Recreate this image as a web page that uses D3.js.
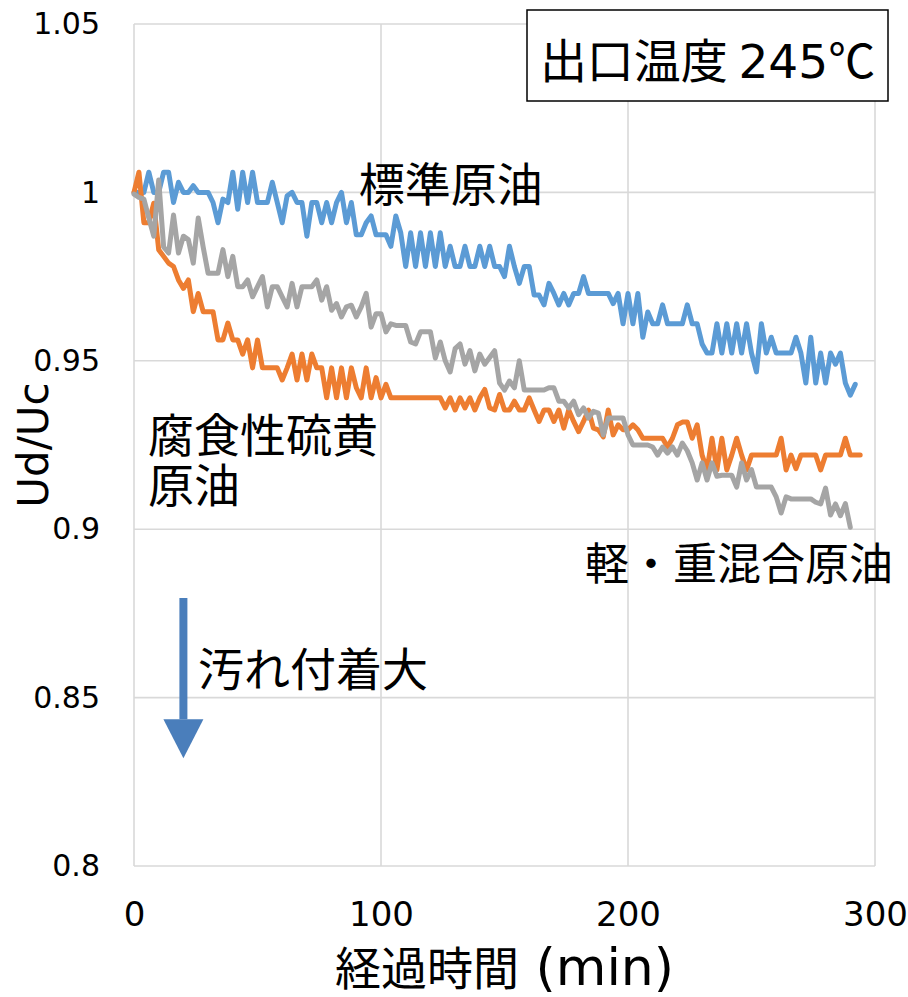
<!DOCTYPE html>
<html>
<head>
<meta charset="utf-8">
<script src="https://cdn.jsdelivr.net/npm/d3@7"></script>
<style>
  body { margin: 0; background: #fff; }
  text { fill: #000; }
</style>
</head>
<body>
<svg id="chart"></svg>
<script>
// samples logged every 2 min
const sampleMinutes = d3.range(0, 296, 2);

// 標準原油
const standardCrude = [
  1.0, 1.0, 1.0, 1.006, 1.0, 1.0, 1.006, 1.006, 0.997, 1.003,
  1.0, 1.0, 1.002, 1.0, 1.0, 1.0, 0.997, 0.991, 0.998, 0.997,
  1.006, 0.995, 1.006, 0.997, 1.006, 0.997, 0.997, 0.997, 1.003, 0.997,
  0.991, 0.999, 1.0, 0.997, 0.997, 0.987, 0.997, 0.997, 0.991, 0.997,
  0.991, 0.997, 1.0, 0.991, 0.997, 0.9874, 0.9874, 0.991, 0.993, 0.9874,
  0.9874, 0.9874, 0.984, 0.993, 0.988, 0.978, 0.988, 0.978, 0.988, 0.978,
  0.988, 0.978, 0.988, 0.978, 0.984, 0.978, 0.978, 0.984, 0.978, 0.978,
  0.984, 0.978, 0.984, 0.978, 0.978, 0.975, 0.984, 0.978, 0.973, 0.978,
  0.978, 0.9695, 0.9695, 0.9666, 0.973, 0.970, 0.9666, 0.970, 0.9666, 0.970,
  0.970, 0.975, 0.970, 0.970, 0.970, 0.970, 0.970, 0.967, 0.970, 0.961,
  0.970, 0.961, 0.970, 0.957, 0.9645, 0.961, 0.961, 0.9666, 0.961, 0.961,
  0.961, 0.961, 0.9666, 0.961, 0.961, 0.955, 0.9523, 0.9523, 0.961, 0.9523,
  0.961, 0.9523, 0.961, 0.9523, 0.961, 0.9523, 0.9467, 0.961, 0.9523, 0.957,
  0.9523, 0.9523, 0.9523, 0.9523, 0.957, 0.9523, 0.9434, 0.957, 0.9434, 0.9523,
  0.9434, 0.9523, 0.949, 0.9523, 0.9434, 0.9398, 0.943
];

// 腐食性硫黄原油
const sulfurCrude = [
  1.0, 1.006, 0.991, 0.991, 0.9968, 0.983, 0.981, 0.979, 0.978, 0.974,
  0.9715, 0.974, 0.9646, 0.970, 0.9646, 0.9646, 0.9646, 0.9562, 0.9562, 0.9612,
  0.9562, 0.9562, 0.952, 0.9562, 0.9479, 0.9562, 0.9479, 0.9479, 0.9479, 0.9479,
  0.9443, 0.9479, 0.952, 0.9443, 0.952, 0.9443, 0.952, 0.9479, 0.9479, 0.939,
  0.9479, 0.939, 0.9479, 0.939, 0.9479, 0.942, 0.939, 0.9479, 0.939, 0.945,
  0.939, 0.943, 0.939, 0.939, 0.939, 0.939, 0.939, 0.939, 0.939, 0.939,
  0.939, 0.939, 0.939, 0.936, 0.939, 0.9354, 0.939, 0.936, 0.939, 0.9354,
  0.939, 0.9415, 0.936, 0.9354, 0.940, 0.9354, 0.9354, 0.938, 0.9354, 0.9354,
  0.939, 0.9354, 0.932, 0.9354, 0.9354, 0.932, 0.9354, 0.930, 0.9354, 0.932,
  0.929, 0.932, 0.9354, 0.930, 0.9295, 0.9274, 0.9354, 0.928, 0.931, 0.9295,
  0.9295, 0.931, 0.9295, 0.927, 0.927, 0.927, 0.927, 0.927, 0.9244, 0.927,
  0.931, 0.9318, 0.9318, 0.927, 0.931, 0.922, 0.9176, 0.927, 0.9176, 0.927,
  0.9176, 0.922, 0.927, 0.922, 0.9176, 0.922, 0.922, 0.922, 0.922, 0.922,
  0.922, 0.927, 0.9176, 0.922, 0.918, 0.922, 0.922, 0.922, 0.922, 0.9176,
  0.922, 0.922, 0.922, 0.922, 0.927, 0.922, 0.922, 0.922
];

// 軽・重混合原油
const mixedCrude = [
  0.9995, 0.9985, 0.998, 0.9924, 0.987, 1.0037, 0.9838, 0.982, 0.9933, 0.982,
  0.987, 0.986, 0.979, 0.9924, 0.9838, 0.976, 0.976, 0.976, 0.983, 0.975,
  0.981, 0.972, 0.972, 0.974, 0.969, 0.972, 0.975, 0.966, 0.972, 0.972,
  0.969, 0.966, 0.973, 0.966, 0.972, 0.972, 0.972, 0.974, 0.968, 0.972,
  0.965, 0.967, 0.963, 0.966, 0.9665, 0.963, 0.966, 0.970, 0.960, 0.964,
  0.964, 0.9586, 0.961, 0.9605, 0.9605, 0.9605, 0.9556, 0.955, 0.9586, 0.9586,
  0.9586, 0.9508, 0.9556, 0.950, 0.9467, 0.9536, 0.955, 0.949, 0.953, 0.947,
  0.952, 0.949, 0.951, 0.953, 0.9434, 0.9413, 0.944, 0.942, 0.950, 0.9413,
  0.9413, 0.9413, 0.9413, 0.9413, 0.942, 0.942, 0.938, 0.938, 0.936, 0.938,
  0.934, 0.936, 0.933, 0.935, 0.9345, 0.928, 0.933, 0.933, 0.933, 0.933,
  0.928, 0.925, 0.925, 0.925, 0.925, 0.9244, 0.922, 0.9244, 0.9226, 0.9244,
  0.922, 0.9256, 0.9233, 0.9197, 0.9146, 0.9197, 0.9146, 0.9197, 0.9157, 0.916,
  0.916, 0.916, 0.9125, 0.9197, 0.9146, 0.9177, 0.9125, 0.9125, 0.9125, 0.9125,
  0.9096, 0.9048, 0.9096, 0.909, 0.909, 0.909, 0.909, 0.909, 0.908, 0.9075,
  0.9122, 0.9042, 0.9075, 0.904, 0.9076, 0.9006
];

const xTicks = [0, 100, 200, 300];
const yTicks = [0.8, 0.85, 0.9, 0.95, 1.0, 1.05];
const yTickLabels = ["0.8", "0.85", "0.9", "0.95", "1", "1.05"];

const series = [
  { name: "標準原油", color: "#5b9bd5", values: standardCrude },
  { name: "腐食性硫黄原油", color: "#ed7d31", values: sulfurCrude },
  { name: "軽・重混合原油", color: "#a5a5a5", values: mixedCrude }
];

const W = 908, H = 997;
const margin = { top: 24, right: 33, bottom: 131, left: 134 };

const svg = d3.select("#chart")
    .attr("width", W)
    .attr("height", H);

const x = d3.scaleLinear().domain([0, 300]).range([margin.left, W - margin.right]);
const y = d3.scaleLinear().domain([0.8, 1.05]).range([H - margin.bottom, margin.top]);

const jp = "'Noto Sans CJK JP', sans-serif";
const num = "'DejaVu Sans', Verdana, sans-serif";

// gridlines (the frame is just the outer gridlines)
const grid = svg.append("g").attr("stroke", "#d9d9d9").attr("stroke-width", 1.6);
grid.selectAll("line.h")
    .data(yTicks)
    .join("line")
    .attr("x1", x(0)).attr("x2", x(300))
    .attr("y1", d => y(d)).attr("y2", d => y(d));
grid.selectAll("line.v")
    .data(xTicks)
    .join("line")
    .attr("class", "v")
    .attr("y1", y(0.8)).attr("y2", y(1.05))
    .attr("x1", d => x(d)).attr("x2", d => x(d));

// axes, labels only
const yAxis = svg.append("g")
    .attr("transform", `translate(${margin.left},0)`)
    .call(d3.axisLeft(y).tickValues(yTicks).tickSize(0).tickPadding(34)
        .tickFormat((d, i) => yTickLabels[i]));
const xAxis = svg.append("g")
    .attr("transform", `translate(0,${y(0.8)})`)
    .call(d3.axisBottom(x).tickValues(xTicks).tickSize(0).tickPadding(36));
[yAxis, xAxis].forEach(a => {
    a.select(".domain").remove();
    a.selectAll("text").attr("font-family", num).attr("fill", "#000");
});
yAxis.selectAll("text").attr("font-size", 30);
xAxis.selectAll("text").attr("font-size", 34);

// axis titles
svg.append("text")
    .attr("transform", `translate(48,${y(0.925)}) rotate(-90)`)
    .attr("text-anchor", "middle")
    .attr("font-family", num)
    .attr("font-size", 42)
    .text("Ud/Uc");

const xTitle = svg.append("text")
    .attr("x", x(150))
    .attr("y", 985)
    .attr("text-anchor", "middle")
    .attr("font-family", jp)
    .attr("font-size", 46);
xTitle.append("tspan").text("経過時間");
xTitle.append("tspan").attr("font-family", num).attr("font-size", 52).text(" (min)");

// series lines
const line = d3.line()
    .x((d, i) => x(sampleMinutes[i]))
    .y(d => y(d));

svg.append("g")
    .selectAll("path")
    .data(series)
    .join("path")
    .attr("d", d => line(d.values))
    .attr("fill", "none")
    .attr("stroke", d => d.color)
    .attr("stroke-width", 5)
    .attr("stroke-linejoin", "round")
    .attr("stroke-linecap", "round");

// series annotations
const notes = [
    { lines: ["標準原油"], t: 91, v: 0.9975, size: 46 },
    { lines: ["腐食性硫黄", "原油"], t: 5.7, v: 0.9229, size: 46 },
    { lines: ["軽・重混合原油"], t: 182.6, v: 0.8849, size: 44 },
    { lines: ["汚れ付着大"], t: 25.9, v: 0.8534, size: 46 }
];
notes.forEach(n => {
    const t = svg.append("text")
        .attr("x", x(n.t))
        .attr("y", y(n.v))
        .attr("font-family", jp)
        .attr("font-size", n.size);
    n.lines.forEach((s, i) => {
        t.append("tspan").attr("x", x(n.t)).attr("dy", i ? 50 : 0).text(s);
    });
});

// fouling arrow
const arrowColor = "#4a7ebb";
svg.append("line")
    .attr("x1", x(20)).attr("x2", x(20))
    .attr("y1", y(0.8796)).attr("y2", y(0.8436))
    .attr("stroke", arrowColor)
    .attr("stroke-width", 8);
svg.append("path")
    .attr("d", `M${x(20) - 20},${y(0.8436)} L${x(20) + 20},${y(0.8436)} L${x(20)},${y(0.832)} Z`)
    .attr("fill", arrowColor);

// condition box
svg.append("rect")
    .attr("x", 527).attr("y", 10)
    .attr("width", 361).attr("height", 91)
    .attr("fill", "#fff")
    .attr("stroke", "#000")
    .attr("stroke-width", 1.5);
const box = svg.append("text")
    .attr("x", 707.5)
    .attr("y", 78)
    .attr("text-anchor", "middle")
    .attr("font-family", jp)
    .attr("font-size", 47);
box.append("tspan").text("出口温度 ");
box.append("tspan").attr("font-family", num).text("245");
box.append("tspan").text("℃");
</script>
</body>
</html>
